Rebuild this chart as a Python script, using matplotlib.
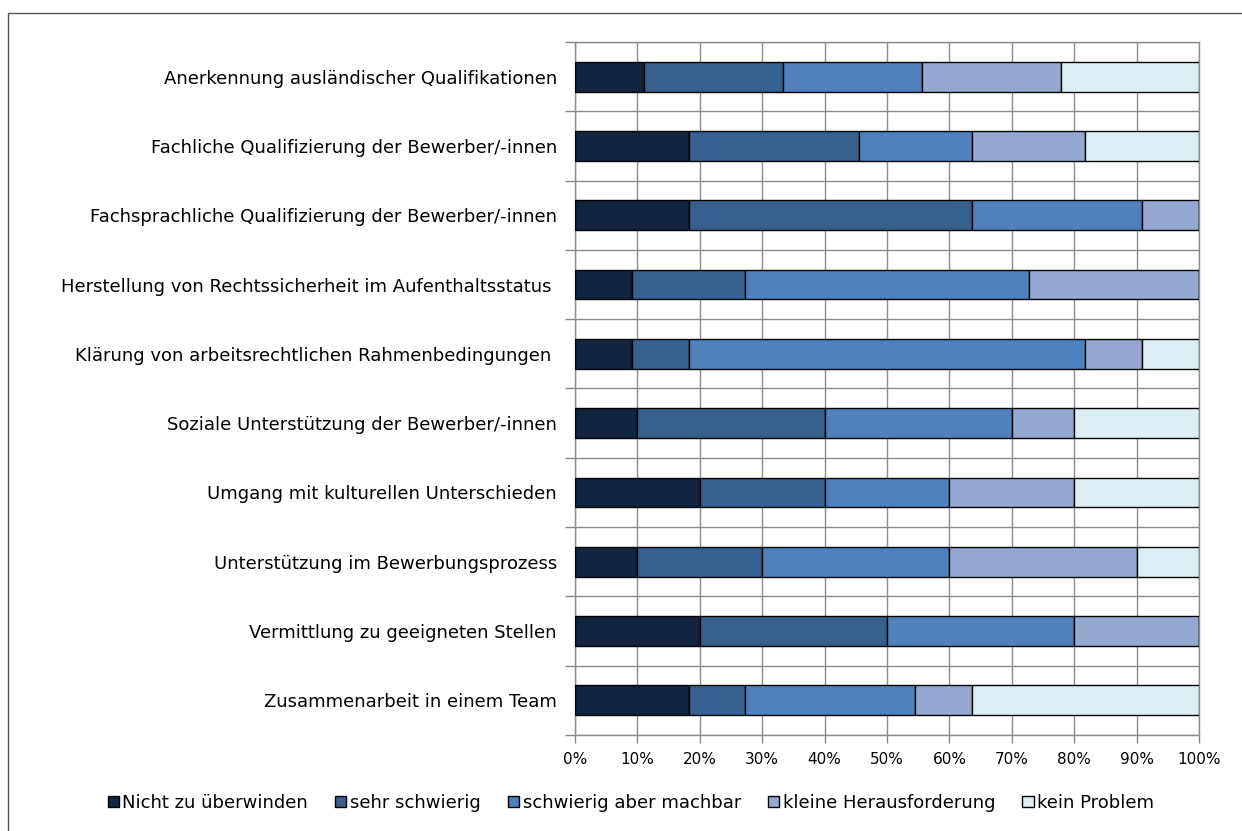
import numpy as np
import matplotlib.pyplot as plt
from matplotlib.patches import Rectangle

plt.rcParams["font.family"] = ["DejaVu Sans"]

# =========================
# Data (shares in %)
# =========================
categories = [
    "Anerkennung ausländischer Qualifikationen",
    "Fachliche Qualifizierung der Bewerber/-innen",
    "Fachsprachliche Qualifizierung der Bewerber/-innen",
    "Herstellung von Rechtssicherheit im Aufenthaltsstatus ",
    "Klärung von arbeitsrechtlichen Rahmenbedingungen ",
    "Soziale Unterstützung der Bewerber/-innen",
    "Umgang mit kulturellen Unterschieden",
    "Unterstützung im Bewerbungsprozess",
    "Vermittlung zu geeigneten Stellen",
    "Zusammenarbeit in einem Team",
]
series_names = ["Nicht zu überwinden", "sehr schwierig", "schwierig aber machbar",
                "kleine Herausforderung", "kein Problem"]

nicht_zu_ueberwinden = [11.1, 18.2, 18.2, 9.1, 9.1, 10, 20, 10, 20, 18.2]
sehr_schwierig = [22.2, 27.3, 45.4, 18.2, 9.1, 30, 20, 20, 30, 9.1]
schwierig_machbar = [22.3, 18.1, 27.3, 45.4, 63.6, 30, 20, 30, 30, 27.2]
kleine_herausforderung = [22.2, 18.2, 9.1, 27.3, 9.1, 10, 20, 30, 20, 9.1]
kein_problem = [22.2, 18.2, 0, 0, 9.1, 20, 20, 10, 0, 36.4]

colors = ["#12243F", "#35608F", "#4F81BD", "#95A8D0", "#DAEEF3"]

# =========================
# Figure
# =========================
fig = plt.figure(figsize=(12.42, 8.31), dpi=100)
ax = fig.add_axes([0.463, 0.1155, 0.5024, 0.834])

data = [nicht_zu_ueberwinden, sehr_schwierig, schwierig_machbar,
        kleine_herausforderung, kein_problem]
y = np.arange(len(categories))
left = np.zeros(len(categories))
for vals, name, col in zip(data, series_names, colors):
    vals = np.array(vals, dtype=float)
    ax.barh(y, vals, left=left, height=0.43, color=col, edgecolor="black",
            linewidth=1.0, label=name, zorder=3)
    left += vals

ax.set_xlim(0, 100)
ax.set_ylim(len(categories) - 0.5, -0.5)
ax.set_xticks(np.arange(0, 101, 10))
ax.set_xticklabels([f"{v}%" for v in range(0, 101, 10)], fontsize=11)
ax.set_yticks(y)
ax.set_yticklabels(categories, fontsize=13)
ax.set_yticks(np.arange(-0.5, len(categories), 1), minor=True)
ax.tick_params(axis="y", which="major", length=0, pad=13)
ax.tick_params(axis="y", which="minor", length=7, color="#888888", width=1)
ax.tick_params(axis="x", length=6, color="#888888", width=1, pad=6)

ax.grid(True, axis="x", color="#8c8c8c", linewidth=1, zorder=0)
ax.grid(True, axis="y", which="minor", color="#8c8c8c", linewidth=1, zorder=0)
for s in ["top", "right", "bottom", "left"]:
    ax.spines[s].set_color("#8c8c8c")
    ax.spines[s].set_linewidth(1)

leg = fig.legend(loc="center", bbox_to_anchor=(0.508, 0.034), ncol=5, frameon=False,
                 fontsize=13, handlelength=0.62, handleheight=0.62, handletextpad=0.2,
                 columnspacing=1.5)
for h in leg.legend_handles:
    h.set_edgecolor("black")

# outer frame
fig.patches.append(Rectangle((0.0065, -0.01), 1.2, 0.994, transform=fig.transFigure,
                             fill=False, edgecolor="#555555", linewidth=1))

plt.savefig("out.png", dpi=100)
plt.close()
